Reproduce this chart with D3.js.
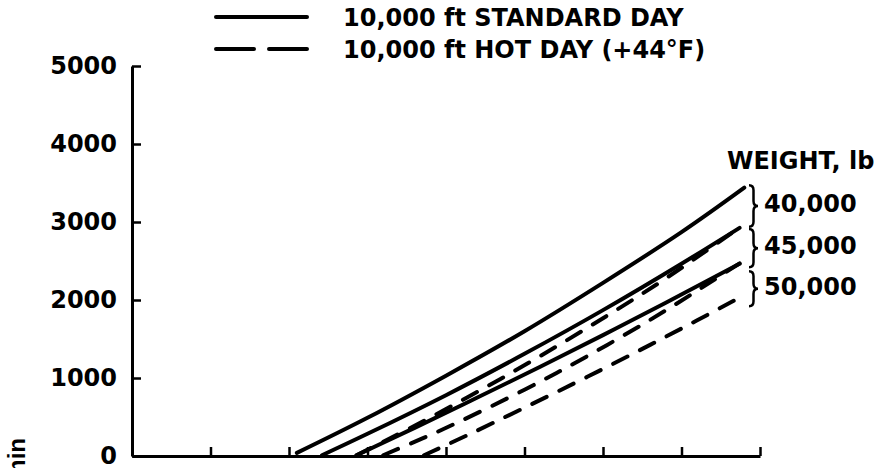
<!DOCTYPE html>
<html><head><meta charset="utf-8">
<script src="https://cdn.jsdelivr.net/npm/d3@7"></script>
<style>
body{margin:0;background:#fff}
svg{display:block;font-family:"DejaVu Sans",sans-serif;font-weight:bold}
</style>
</head><body><svg id="c" width="890" height="468"></svg>
<script>
// ---- data ----
const xTickValues = [0, 50, 100, 150, 200, 250, 300, 350, 400];
const yTickValues = [0, 1000, 2000, 3000, 4000, 5000];
const weights = ["40,000", "45,000", "50,000"];
const legendLabels = ["10,000 ft STANDARD DAY", "10,000 ft HOT DAY (+44\u00B0F)"];
const yAxisLabel = "RATE OF CLIMB, ft/min";
const weightTitle = "WEIGHT, lb";

// standard day curves [x, rate of climb]
const std40 = [[105,40],[150,490],[200,1030],[250,1600],[300,2220],[350,2870],[390,3440]];
const std45 = [[121,10],[150,285],[200,780],[250,1310],[300,1870],[350,2465],[387,2925]];
const std50 = [[143,10],[180,360],[220,750],[260,1145],[300,1550],[340,1965],[387,2465]];
// hot day curves
const hot40 = [[143,10],[180,388],[220,822],[260,1281],[300,1766],[340,2277],[386,2915]];
const hot45 = [[160,10],[185,225],[210,455],[250,850],[290,1280],[330,1745],[360,2120],[387,2470]];
const hot50 = [[186,10],[215,280],[250,620],[290,1015],[330,1425],[360,1740],[386,2020]];

// brace extents (rate of climb) grouping the curve ends by weight
const braceRanges = [[3470, 2940], [2910, 2420], [2370, 1920]];

// ---- drawing ----
const svg = d3.select("#c");
svg.append("rect").attr("width", 890).attr("height", 468).attr("fill", "#fff");

const x = d3.scaleLinear().domain([0, 400]).range([132, 760]);
const y = d3.scaleLinear().domain([0, 5000]).range([456, 66]);

const yAxis = svg.append("g").attr("transform", `translate(${x(0)},0)`)
  .call(d3.axisLeft(y).tickValues(yTickValues).tickSize(-9).tickSizeOuter(0).tickPadding(15).tickFormat(d3.format("d")));
const xAxis = svg.append("g").attr("transform", `translate(0,${y(0)})`)
  .call(d3.axisBottom(x).tickValues(xTickValues).tickSize(-9).tickSizeOuter(0).tickFormat(""));

[yAxis, xAxis].forEach(g => {
  g.select(".domain").attr("stroke", "#000").attr("stroke-width", 3);
  g.selectAll(".tick line").attr("stroke", "#000").attr("stroke-width", 2.5);
  g.selectAll(".tick text").attr("fill", "#000").attr("font-size", 24)
    .attr("font-family", "DejaVu Sans, sans-serif").attr("font-weight", "bold");
});
xAxis.selectAll(".tick").filter(d => d === 0).select("line").remove();

const line = d3.line().x(d => x(d[0])).y(d => y(d[1])).curve(d3.curveNatural);

const series = [
  {data: std40, dash: null},
  {data: std45, dash: null},
  {data: std50, dash: null},
  {data: hot40, dash: "16,14"},
  {data: hot45, dash: "16,14"},
  {data: hot50, dash: "16,14"}
];
svg.append("g").selectAll("path").data(series).join("path")
  .attr("d", d => line(d.data))
  .attr("fill", "none").attr("stroke", "#000").attr("stroke-width", 4)
  .attr("stroke-linecap", "round")
  .attr("stroke-dasharray", d => d.dash);

// legend
const legend = svg.append("g");
legendLabels.forEach((t, i) => {
  const ly = 17 + i * 32;
  legend.append("line").attr("x1", 216).attr("x2", 307).attr("y1", ly).attr("y2", ly)
    .attr("stroke", "#000").attr("stroke-width", 4).attr("stroke-linecap", "round")
    .attr("stroke-dasharray", i === 0 ? null : "38,15");
  legend.append("text").attr("x", 343).attr("y", ly + 9).attr("font-size", 24).text(t);
});

// weight annotations
svg.append("text").attr("x", 727).attr("y", 169).attr("font-size", 24).text(weightTitle);
const bx = 749, bw = 9, r = 5;
braceRanges.forEach((br, i) => {
  const y0 = y(br[0]), y1 = y(br[1]), ym = (y0 + y1) / 2, xm = bx + bw / 2;
  const p = `M${bx},${y0} Q${xm},${y0} ${xm},${y0 + r} L${xm},${ym - r} Q${xm},${ym} ${bx + bw},${ym} ` +
            `Q${xm},${ym} ${xm},${ym + r} L${xm},${y1 - r} Q${xm},${y1} ${bx},${y1}`;
  svg.append("path").attr("d", p).attr("fill", "none").attr("stroke", "#000").attr("stroke-width", 2.5);
  svg.append("text").attr("x", 764).attr("y", ym + 6).attr("font-size", 24).text(weights[i]);
});

// y axis label (runs off the bottom edge as in the source)
svg.append("text").attr("transform", "translate(25,438) rotate(-90)")
  .attr("text-anchor", "end").attr("font-size", 24)
  .attr("font-family", "Liberation Sans, Arial, sans-serif").text(yAxisLabel);
</script>
</body></html>
